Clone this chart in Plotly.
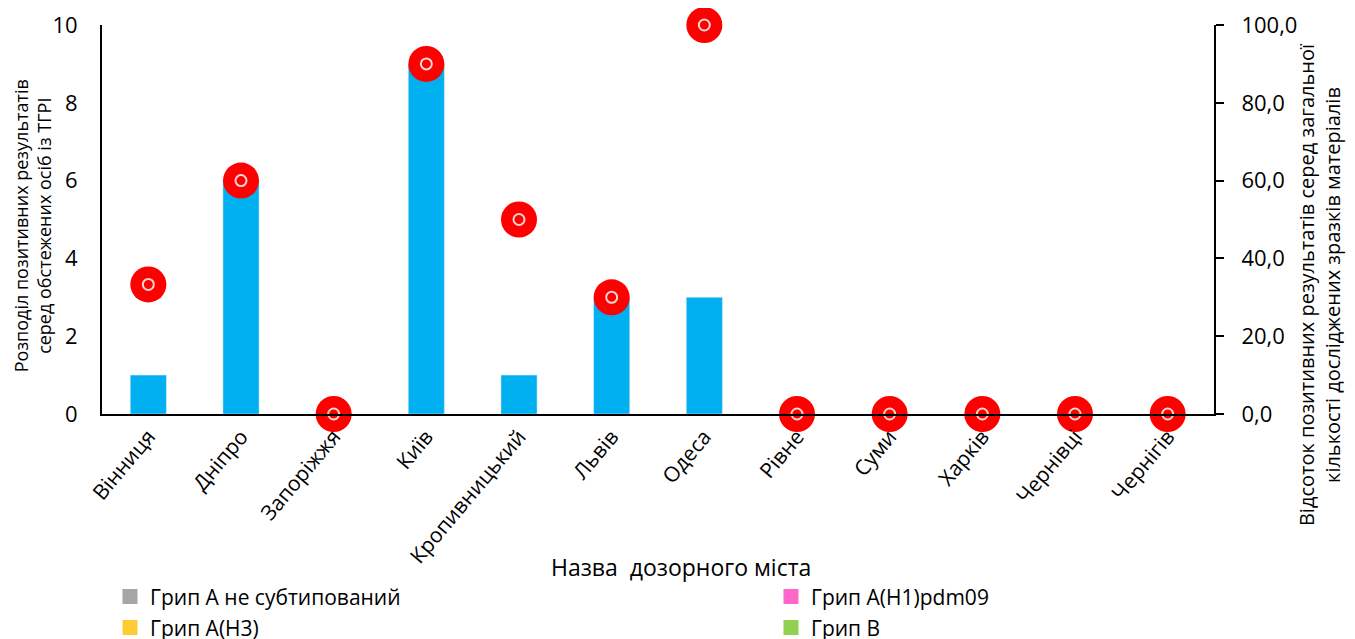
import plotly.graph_objects as go

cities = ["Вінниця", "Дніпро", "Запоріжжя", "Київ", "Кропивницький", "Львів",
          "Одеса", "Рівне", "Суми", "Харків", "Чернівці", "Чернігів"]
positives = [1, 6, 0, 9, 1, 3, 3, 0, 0, 0, 0, 0]
percent = [33.3, 60.0, 0.0, 90.0, 50.0, 30.0, 100.0, 0.0, 0.0, 0.0, 0.0, 0.0]
legend_names = ["Грип A не субтипований", "Грип A(H1)pdm09", "Грип A(H3)", "Грип B"]
legend_colors = ["#A5A5A5", "#FF66CC", "#FFCC33", "#92D050"]

FONT = "Open Sans, sans-serif"

fig = go.Figure()
fig.add_trace(go.Bar(x=cities, y=positives, marker_color="#00B0F0", width=0.39,
                     showlegend=False))
fig.add_trace(go.Scatter(x=cities, y=percent, yaxis="y2", mode="markers",
                         marker=dict(size=36, color="#FF0000", line=dict(width=0)),
                         cliponaxis=False, showlegend=False))
fig.add_trace(go.Scatter(x=cities, y=percent, yaxis="y2", mode="markers",
                         marker=dict(size=11, symbol="circle-open", color="#F5D5D5",
                                     line=dict(width=2, color="#F5D5D5")),
                         cliponaxis=False, showlegend=False))
legend_ids = ["legend", "legend2", "legend3", "legend4"]
for n, c, lid in zip(legend_names, legend_colors, legend_ids):
    fig.add_trace(go.Scatter(x=[None], y=[None], mode="markers", name=n, legend=lid,
                             marker=dict(symbol="square", size=15, color=c)))

leg_common = dict(xanchor="left", yanchor="middle", font=dict(size=21),
                  bgcolor="rgba(0,0,0,0)", borderwidth=0)

fig.update_layout(
    width=1355, height=639,
    margin=dict(l=94, r=149, t=17, b=233, autoexpand=False),
    plot_bgcolor="white", paper_bgcolor="white",
    separators=", ",
    font=dict(family=FONT, color="#000000"),
    xaxis=dict(showline=True, linecolor="black", linewidth=2, ticks="",
               range=[-0.5, len(cities) - 0.5],
               tickangle=-50, tickfont=dict(size=21), showgrid=False, automargin=False),
    yaxis=dict(range=[0, 10], dtick=2, showline=True, linecolor="black", linewidth=2,
               ticks="", showgrid=False, zeroline=False, tickfont=dict(size=22),
               ticklabelstandoff=18, automargin=False),
    yaxis2=dict(range=[0, 100], dtick=20, overlaying="y", side="right",
                showline=True, linecolor="black", linewidth=2, ticks="outside",
                ticklen=8, tickwidth=2, tickcolor="black", tickformat=".1f",
                showgrid=False, zeroline=False, tickfont=dict(size=22),
                ticklabelstandoff=13, automargin=False),
    legend=dict(x=0.0072, y=-0.47, **leg_common),
    legend2=dict(x=0.6016, y=-0.47, **leg_common),
    legend3=dict(x=0.0072, y=-0.55, **leg_common),
    legend4=dict(x=0.6016, y=-0.55, **leg_common),
    annotations=[
        dict(text="Назва\u00a0 дозорного міста", xref="paper", yref="paper",
             x=0.521, y=-0.393, xanchor="center", yanchor="middle",
             showarrow=False, font=dict(size=23)),
        dict(text="Розподіл позитивних результатів<br>серед обстежених осіб із ТГРІ",
             xref="paper", yref="paper", x=-0.063, y=0.485, xanchor="center",
             yanchor="middle", textangle=-90, showarrow=False, font=dict(size=18)),
        dict(text="Відсоток позитивних результатів серед загальної<br>кількості досліджених зразків матеріалів",
             xref="paper", yref="paper", x=1.0955, y=0.332, xanchor="center",
             yanchor="middle", textangle=-90, showarrow=False, font=dict(size=20)),
    ],
)

fig.write_html("out.html")
